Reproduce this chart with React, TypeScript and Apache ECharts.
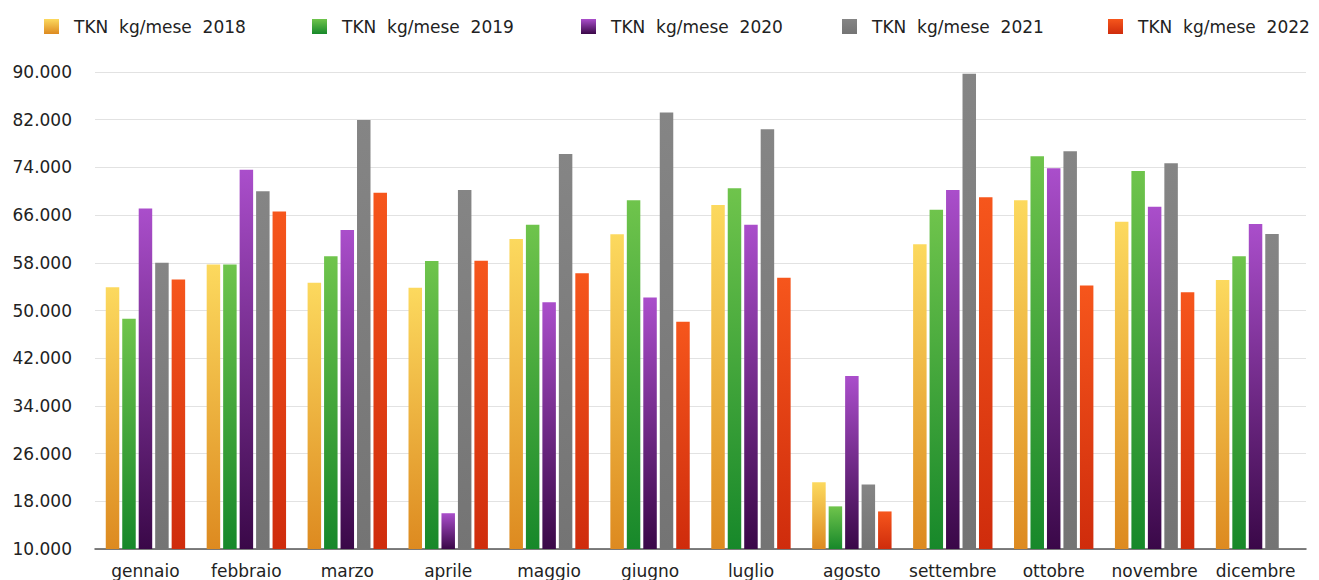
import React, { useEffect, useRef } from "react";
import * as echarts from "echarts";

const months = ["gennaio", "febbraio", "marzo", "aprile", "maggio", "giugno", "luglio", "agosto", "settembre", "ottobre", "novembre", "dicembre"];
const seriesNames = ["TKN  kg/mese  2018", "TKN  kg/mese  2019", "TKN  kg/mese  2020", "TKN  kg/mese  2021", "TKN  kg/mese  2022"];
const v2018 = [53900, 57700, 54650, 53800, 62000, 62800, 67700, 21200, 61100, 68500, 64900, 55100];
const v2019 = [48600, 57700, 59100, 58300, 64400, 68500, 70500, 17150, 66900, 75850, 73400, 59100];
const v2020 = [67100, 73600, 63500, 16000, 51400, 52200, 64400, 39000, 70200, 73850, 67400, 64500];
const v2021 = [58000, 70000, 81950, 70200, 76250, 83200, 80400, 20800, 89700, 76700, 74700, 62850];
const v2022 = [55200, 66600, 69750, 58350, 56250, 48100, 55500, 16300, 69000, 54200, 53050, null];
const yTicks = { min: 10000, max: 90000, step: 8000 };

const gradients = [
  ["#fcd95e", "#dd8a20"],
  ["#6fc44c", "#17882a"],
  ["#aa4ecb", "#3a0848"],
  ["#858585", "#747474"],
  ["#f6561c", "#cf2c0c"],
];
const legendLeft = [44, 312, 581, 842, 1108];

const fmt = (v: number) => {
  const s = Math.round(v).toString();
  return s.replace(/\B(?=(\d{3})+(?!\d))/g, ".");
};

const grad = (c: string[]) =>
  new echarts.graphic.LinearGradient(0, 0, 0, 1, [
    { offset: 0, color: c[0] },
    { offset: 1, color: c[1] },
  ]);

export default function App() {
  const ref = useRef<HTMLDivElement>(null);
  useEffect(() => {
    if (!ref.current) return;
    const chart = echarts.init(ref.current, undefined, { renderer: "svg" });
    const values = [v2018, v2019, v2020, v2021, v2022];
    const font = "DejaVu Sans";
    chart.setOption({
      animation: false,
      backgroundColor: "#ffffff",
      textStyle: { fontFamily: font },
      legend: seriesNames.map((n, i) => ({
        data: [n],
        left: legendLeft[i],
        top: 18,
        padding: 0,
        itemWidth: 15,
        itemHeight: 15,
        icon: "rect",
        selectedMode: false,
        textStyle: { fontFamily: font, fontSize: 17, color: "#222", padding: [0, 0, 0, 10] },
      })),
      grid: { left: 95, right: 13, top: 72, bottom: 31, containLabel: false },
      xAxis: {
        type: "category",
        data: months,
        axisLine: { lineStyle: { color: "#555", width: 1.5 } },
        axisTick: { show: false },
        axisLabel: { fontFamily: font, fontSize: 17, color: "#222", margin: 13, interval: 0 },
      },
      yAxis: {
        type: "value",
        min: yTicks.min,
        max: yTicks.max,
        interval: yTicks.step,
        axisLine: { show: false },
        axisTick: { show: false },
        splitLine: { lineStyle: { color: "#e2e2e2", width: 1 } },
        axisLabel: { fontFamily: font, fontSize: 17, color: "#222", margin: 23, formatter: (v: number) => fmt(v) },
      },
      series: seriesNames.map((n, i) => ({
        name: n,
        type: "bar",
        data: values[i],
        barWidth: 13.5,
        barGap: "22%",
        clip: true,
        itemStyle: { color: grad(gradients[i]) },
      })),
    });
    return () => chart.dispose();
  }, []);
  return (
    <div
      ref={ref}
      style={{ position: "absolute", left: 0, top: 0, width: 1319, height: 580 }}
    />
  );
}
